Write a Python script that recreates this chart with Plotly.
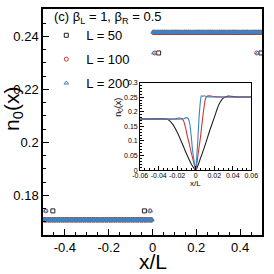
import numpy as np
import plotly.graph_objects as go

# ---------------- data ----------------
L_values = [50, 100, 200]
names = ["L = 50", "L = 100", "L = 200"]
colors = ["#222222", "#cc3b33", "#3b84c4"]
symbols = ["square-open", "circle-open", "triangle-up-open"]

# bulk plateau levels (main panel)
n_left_bulk = 0.1707
n_right_bulk = 0.2415

# boundary points (main panel)
edge_x_L50 = [-0.455, -0.037, 0.028, 0.495]
edge_x_L100 = [-0.487, -0.012, 0.010, 0.476]
edge_x_L200 = [-0.4875, -0.010, 0.006, 0.480]
edge_n = [0.1741, 0.1741, 0.2337, 0.2337]
edge_xs = [edge_x_L50, edge_x_L100, edge_x_L200]

# inset curves (zoom around the junction)
x_in_L50 = [-0.06, -0.045, -0.035, -0.03, -0.025, -0.02, -0.015, -0.01, -0.005, 0.0,
            0.005, 0.01, 0.015, 0.02, 0.025, 0.03, 0.035, 0.045, 0.06]
n_in_L50 = [0.175, 0.176, 0.176, 0.174, 0.158, 0.130, 0.094, 0.056, 0.022, 0.0,
            0.040, 0.085, 0.135, 0.180, 0.225, 0.248, 0.254, 0.251, 0.251]
x_in_L100 = [-0.06, -0.03, -0.022, -0.019, -0.0155, -0.013, -0.011, -0.009, -0.007, -0.005,
             -0.0025, 0.0, 0.0025, 0.005, 0.0075, 0.0105, 0.0125, 0.015, 0.02, 0.03, 0.06]
n_in_L100 = [0.175, 0.175, 0.176, 0.179, 0.177, 0.168, 0.145, 0.115, 0.090, 0.062,
             0.030, 0.0, 0.055, 0.110, 0.180, 0.245, 0.254, 0.255, 0.252, 0.251, 0.251]
x_in_L200 = [-0.06, -0.02, -0.013, -0.0105, -0.008, -0.0065, -0.005, -0.0035, -0.002, 0.0,
             0.001, 0.002, 0.0035, 0.005, 0.006, 0.0075, 0.009, 0.012, 0.02, 0.06]
n_in_L200 = [0.175, 0.175, 0.176, 0.180, 0.176, 0.160, 0.120, 0.070, 0.035, 0.0,
             0.040, 0.090, 0.176, 0.235, 0.255, 0.253, 0.255, 0.252, 0.251, 0.251]
x_ins = [x_in_L50, x_in_L100, x_in_L200]
n_ins = [n_in_L50, n_in_L100, n_in_L200]

x_ticks_main = [-0.4, -0.2, 0, 0.2, 0.4]
x_ticklabels_main = ["-0.4", "-0.2", "0", "0.2", "0.4"]
y_ticks_main = [0.18, 0.2, 0.22, 0.24]
y_ticklabels_main = ["0.18", "0.2", "0.22", "0.24"]
x_ticks_in = [-0.06, -0.04, -0.02, 0, 0.02, 0.04, 0.06]
x_ticklabels_in = ["-0.06", "-0.04", "-0.02", "0", "0.02", "0.04", "0.06"]
y_ticks_in = [0, 0.05, 0.1, 0.15, 0.2, 0.25, 0.3]
y_ticklabels_in = ["0", "0.05", "0.1", "0.15", "0.2", "0.25", "0.3"]

FONT = "Liberation Sans, Arial, sans-serif"

fig = go.Figure()

# main panel: lattice sites with step profile
for L, nm, c, s in zip(L_values, names, colors, symbols):
    x = (np.arange(L) + 0.5) / L - 0.5
    n = np.where(x < 0, n_left_bulk, n_right_bulk)
    fig.add_trace(go.Scatter(x=x, y=n, mode="markers", name=nm, legendgroup=nm,
                             marker=dict(symbol=s, size=4, color=c, line=dict(width=1, color=c)),
                             xaxis="x", yaxis="y"))
for ex, nm, c, s in zip(edge_xs, names, colors, symbols):
    fig.add_trace(go.Scatter(x=ex, y=edge_n, mode="markers", name=nm, legendgroup=nm,
                             showlegend=False,
                             marker=dict(symbol=s, size=4, color=c, line=dict(width=1, color=c)),
                             xaxis="x", yaxis="y"))

# inset curves
for xi, ni, c in zip(x_ins, n_ins, colors):
    fig.add_trace(go.Scatter(x=xi, y=ni, mode="lines", showlegend=False,
                             line=dict(color=c, width=1.1, shape="spline", smoothing=0.5),
                             xaxis="x2", yaxis="y2"))

axis_common = dict(showline=True, linecolor="black", mirror=True, ticks="inside",
                   showgrid=False, zeroline=False, tickcolor="black")

fig.update_layout(
    width=274, height=274,
    margin=dict(l=43, r=6, t=5, b=39),
    paper_bgcolor="white", plot_bgcolor="white",
    font=dict(family=FONT, color="black", size=13),
    showlegend=True,
    legend=dict(x=0.015, y=0.95, xanchor="left", yanchor="top",
                bgcolor="rgba(0,0,0,0)", font=dict(size=13), itemwidth=30,
                tracegroupgap=4),
    xaxis=dict(**axis_common, range=[-0.5, 0.5], tickvals=x_ticks_main,
               ticktext=x_ticklabels_main, ticklen=6, linewidth=1.5, tickwidth=1,
               tickfont=dict(size=13),
               minor=dict(dtick=0.05, ticklen=3, ticks="inside", tickcolor="black")),
    yaxis=dict(**axis_common, range=[0.165, 0.2503], tickvals=y_ticks_main,
               ticktext=y_ticklabels_main, ticklen=6, linewidth=1.5, tickwidth=1,
               tickfont=dict(size=13),
               minor=dict(dtick=0.005, ticklen=3, ticks="inside", tickcolor="black")),
    xaxis2=dict(**axis_common, domain=[0.444, 0.951], anchor="y2", range=[-0.06, 0.06],
                tickvals=x_ticks_in, ticktext=x_ticklabels_in, ticklen=4, linewidth=1.2,
                tickwidth=0.8, tickfont=dict(size=7), tickangle=0, ticklabelstandoff=-2,
                minor=dict(dtick=0.005, ticklen=2, ticks="inside", tickcolor="black")),
    yaxis2=dict(**axis_common, domain=[0.287, 0.674], anchor="x2", range=[0, 0.3],
                tickvals=y_ticks_in, ticktext=y_ticklabels_in, ticklen=4, linewidth=1.2,
                tickwidth=0.8, tickfont=dict(size=7),
                minor=dict(dtick=0.01, ticklen=2, ticks="inside", tickcolor="black")),
    annotations=[
        dict(text="(c) β<sub>L</sub> = 1, β<sub>R</sub> = 0.5", xref="paper", yref="paper",
             x=0.04, y=0.962, xanchor="left", yanchor="middle", showarrow=False,
             font=dict(size=13)),
        dict(text="n<sub>0</sub>(x)", xref="paper", yref="paper", x=-0.138, y=0.557,
             xanchor="center", yanchor="middle", textangle=-90, showarrow=False,
             font=dict(size=21)),
        dict(text="x/L", xref="paper", yref="paper", x=0.5, y=-0.117,
             xanchor="center", yanchor="middle", showarrow=False, font=dict(size=21)),
        dict(text="x/L", xref="paper", yref="paper", x=0.697, y=0.228,
             xanchor="center", yanchor="middle", showarrow=False, font=dict(size=8)),
        dict(text="n<sub>0</sub>(x)", xref="paper", yref="paper", x=0.345, y=0.565,
             xanchor="center", yanchor="middle", textangle=-90, showarrow=False,
             font=dict(size=9)),
    ],
)

fig.write_html("out.html", config={"displayModeBar": False},
               post_script="document.body.style.margin='0';document.body.style.overflow='hidden';")
